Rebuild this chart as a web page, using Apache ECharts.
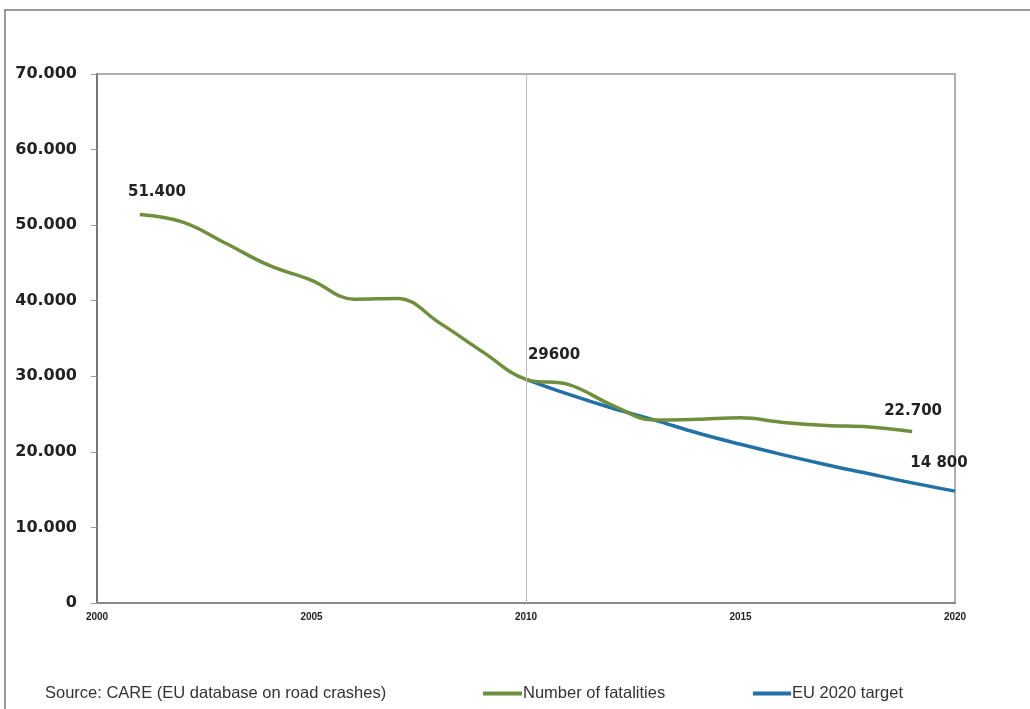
<!DOCTYPE html>
<html>
<head>
<meta charset="utf-8">
<script src="https://cdn.jsdelivr.net/npm/echarts@6/dist/echarts.min.js"></script>
<style>
html,body{margin:0;padding:0;background:#fff;}
#chart{width:1030px;height:709px;}
</style>
</head>
<body>
<div id="chart"></div>
<script>
// ---- data ----
const fatalityYears = [2001,2002,2003,2004,2005,2006,2007,2008,2009,2010,2011,2012,2013,2014,2015,2016,2017,2018,2019];
const fatalityValues = [51400,50400,47600,44700,42700,40200,40300,37000,33200,29600,28900,26200,24200,24300,24500,23900,23500,23300,22700];
const fatalityLabels = ['51.400','','','','','','','','','29600','','','','','','','','','22.700'];

const targetYears = [2010,2011,2012,2013,2014,2015,2016,2017,2018,2019,2020];
const targetValues = [29600,27600,25800,24200,22500,21000,19600,18300,17100,15900,14800];
const targetLabels = ['','','','','','','','','','','14 800'];

const seriesNames = ['Number of fatalities','EU 2020 target'];
const yTickLabels = ['0','10.000','20.000','30.000','40.000','50.000','60.000','70.000'];
const sourceText = 'Source: CARE (EU database on road crashes)';

// label nudges (style only)
const labelOffsets = {
  '51.400':[17,-10], '29600':[28,-12], '22.700':[1,-8], '14 800':[-16,-15]
};

function buildData(years, values, labels){
  return years.map((y,i)=>{
    const item = {value:[y, values[i]]};
    if(labels[i]){
      item.label = {show:true, formatter:labels[i], position:'top', offset:labelOffsets[labels[i]]};
    }
    return item;
  });
}

const GREEN = '#6f8f3c';
const BLUE = '#2271a6';

const chart = echarts.init(document.getElementById('chart'));
const labelStyle = {color:'#222', fontFamily:'DejaVu Sans', fontWeight:'bold', fontSize:15};

chart.setOption({
  animation:false,
  backgroundColor:'#fff',
  grid:{left:97, right:75, top:74, bottom:106, show:true, borderColor:'#b0b0b0', borderWidth:2},
  xAxis:{
    type:'value', min:2000, max:2020, interval:5,
    axisLine:{show:true, lineStyle:{color:'#888', width:2}},
    axisTick:{show:false},
    splitLine:{show:false},
    axisLabel:{color:'#222', fontFamily:'Liberation Sans', fontWeight:'bold', fontSize:10, margin:9,
      formatter:(v)=>String(v)}
  },
  yAxis:{
    type:'value', min:0, max:70000, interval:10000,
    axisLine:{show:true, lineStyle:{color:'#777', width:2}},
    axisTick:{show:true, length:6, lineStyle:{color:'#999'}},
    splitLine:{show:false},
    axisLabel:{color:'#222', fontFamily:'DejaVu Sans', fontWeight:'bold', fontSize:16, margin:20,
      formatter:(v)=>yTickLabels[Math.round(v/10000)]}
  },
  legend:[
    {data:[seriesNames[0]], left:483, top:685, padding:0, itemWidth:39, itemHeight:4, itemGap:0, icon:'rect',
      textStyle:{color:'#333', fontFamily:'Liberation Sans', fontSize:16.5, padding:[0,0,0,-4]}},
    {data:[seriesNames[1]], left:753, top:685, padding:0, itemWidth:38, itemHeight:4, itemGap:0, icon:'rect',
      textStyle:{color:'#333', fontFamily:'Liberation Sans', fontSize:16.5, padding:[0,0,0,-4]}}
  ],
  graphic:[
    {type:'line', shape:{x1:4, y1:10, x2:1030, y2:10}, style:{stroke:'#777', lineWidth:1.5}},
    {type:'line', shape:{x1:5, y1:10, x2:5, y2:709}, style:{stroke:'#777', lineWidth:1.5}},
    {type:'text', left:45, top:685, style:{text:sourceText, fill:'#333', font:'16.5px "Liberation Sans"'}}
  ],
  series:[
    {
      name:seriesNames[0], type:'line', smooth:0.4,
      symbol:'circle', symbolSize:0.1, showSymbol:true,
      lineStyle:{color:GREEN, width:3.5},
      itemStyle:{color:GREEN},
      label:{show:false, ...labelStyle},
      data:buildData(fatalityYears, fatalityValues, fatalityLabels),
      markLine:{silent:true, symbol:'none', label:{show:false},
        lineStyle:{color:'#bbb', width:1, type:'solid'},
        data:[{xAxis:2010}]},
      z:3
    },
    {
      name:seriesNames[1], type:'line', smooth:0.4,
      symbol:'circle', symbolSize:0.1, showSymbol:true,
      lineStyle:{color:BLUE, width:3.5},
      itemStyle:{color:BLUE},
      label:{show:false, ...labelStyle},
      data:buildData(targetYears, targetValues, targetLabels),
      z:2
    }
  ]
});
</script>
</body>
</html>
